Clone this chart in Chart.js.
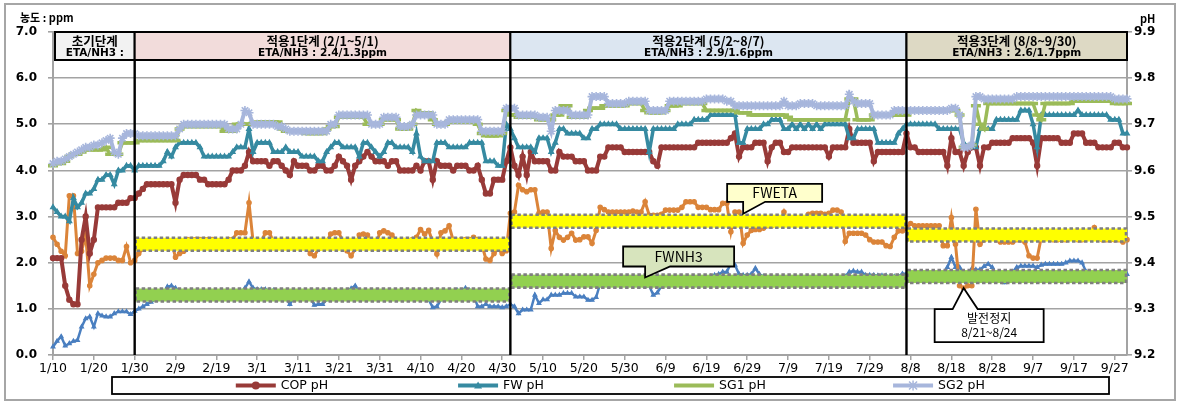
<!DOCTYPE html>
<html><head><meta charset="utf-8">
<script src="https://cdn.jsdelivr.net/npm/chart.js@4.4.1/dist/chart.umd.min.js"></script>
<style>html,body{margin:0;padding:0;background:#fff;overflow:hidden;}canvas{display:block;}</style>
</head><body>
<canvas id="c" width="1178" height="402"></canvas>
<script>
// ---------- categories (daily, 1/10 .. 9/30) ----------
const firstDay = '1/10', lastDay = '9/30';
const monthLengths = [31,28,31,30,31,30,31,31,30,31,30,31];
const categories = [];
(function(){ let m=1,d=10; for(;;){ const s=m+'/'+d; categories.push(s); if(s===lastDay) break; d++; if(d>monthLengths[m-1]){d=1;m++;} } })();

const tickLabels = ['1/10','1/20','1/30','2/9','2/19','3/1','3/11','3/21','3/31','4/10','4/20','4/30',
  '5/10','5/20','5/30','6/9','6/19','6/29','7/9','7/19','7/29','8/8','8/18','8/28','9/7','9/17','9/27'];
const ppmTicks = [0,1,2,3,4,5,6,7];
const pHTicks = [9.2,9.3,9.4,9.5,9.6,9.7,9.8,9.9];

// ---------- series ----------
const COP_pH = [
9.41,9.41,9.41,9.35,9.32,9.31,9.31,9.45,9.50,9.42,
9.45,9.52,9.52,9.52,9.52,9.52,9.53,9.53,9.53,9.54,
9.54,9.55,9.56,9.57,9.57,9.57,9.57,9.57,9.57,9.57,
9.53,9.58,9.59,9.59,9.59,9.59,9.58,9.58,9.57,9.57,
9.57,9.57,9.57,9.58,9.60,9.60,9.60,9.61,9.64,9.62,
9.62,9.62,9.62,9.61,9.62,9.62,9.61,9.60,9.59,9.62,
9.61,9.61,9.61,9.60,9.60,9.61,9.61,9.60,9.60,9.61,
9.63,9.62,9.61,9.58,9.61,9.62,9.63,9.64,9.63,9.62,
9.62,9.62,9.61,9.62,9.62,9.60,9.60,9.60,9.60,9.61,
9.60,9.62,9.62,9.58,9.62,9.61,9.61,9.61,9.60,9.61,
9.61,9.61,9.60,9.60,9.61,9.58,9.55,9.55,9.58,9.58,
9.58,9.62,9.65,9.61,9.59,9.63,9.59,9.64,9.62,9.62,
9.62,9.62,9.60,9.60,9.64,9.63,9.63,9.63,9.62,9.62,
9.62,9.60,9.60,9.60,9.63,9.63,9.65,9.65,9.65,9.65,
9.64,9.64,9.64,9.64,9.64,9.64,9.64,9.62,9.61,9.65,
9.65,9.65,9.65,9.65,9.65,9.65,9.65,9.65,9.66,9.66,
9.66,9.66,9.66,9.66,9.66,9.66,9.67,9.68,9.63,9.65,
9.65,9.65,9.66,9.66,9.66,9.62,9.65,9.66,9.66,9.64,
9.64,9.65,9.65,9.65,9.65,9.65,9.65,9.65,9.65,9.65,
9.63,9.65,9.65,9.65,9.65,9.69,9.66,9.66,9.66,9.66,
9.66,9.62,9.64,9.64,9.64,9.64,9.64,9.64,9.64,9.68,
9.65,9.65,9.64,9.64,9.64,9.64,9.64,9.64,9.64,9.61,
9.67,9.64,9.64,9.61,9.64,9.65,9.65,9.61,9.65,9.65,
9.66,9.66,9.66,9.66,9.66,9.67,9.67,9.67,9.67,9.67,
9.66,9.61,9.67,9.67,9.67,9.67,9.67,9.66,9.66,9.66,
9.68,9.68,9.68,9.66,9.66,9.66,9.65,9.65,9.65,9.65,
9.66,9.66,9.65,9.65];

const FW_pH = [
9.52,9.51,9.50,9.50,9.49,9.54,9.52,9.53,9.55,9.55,
9.56,9.58,9.58,9.59,9.59,9.57,9.60,9.60,9.61,9.61,
9.60,9.61,9.61,9.61,9.61,9.61,9.61,9.62,9.64,9.63,
9.65,9.66,9.66,9.66,9.66,9.66,9.65,9.63,9.63,9.63,
9.63,9.63,9.63,9.63,9.64,9.65,9.65,9.65,9.69,9.64,
9.66,9.66,9.66,9.66,9.64,9.64,9.64,9.65,9.64,9.64,
9.64,9.63,9.63,9.63,9.63,9.62,9.62,9.64,9.65,9.66,
9.66,9.65,9.65,9.65,9.65,9.63,9.66,9.66,9.65,9.64,
9.63,9.64,9.66,9.66,9.65,9.65,9.65,9.65,9.64,9.68,
9.63,9.62,9.62,9.62,9.66,9.66,9.66,9.65,9.65,9.65,
9.65,9.65,9.66,9.66,9.66,9.66,9.62,9.62,9.62,9.61,
9.61,9.70,9.69,9.67,9.65,9.65,9.65,9.65,9.64,9.67,
9.67,9.67,9.64,9.66,9.69,9.69,9.68,9.68,9.68,9.68,
9.67,9.67,9.69,9.69,9.70,9.70,9.70,9.70,9.70,9.69,
9.69,9.69,9.69,9.69,9.69,9.69,9.64,9.69,9.69,9.69,
9.69,9.69,9.69,9.70,9.70,9.70,9.70,9.71,9.71,9.71,
9.71,9.72,9.72,9.72,9.72,9.72,9.72,9.72,9.66,9.66,
9.69,9.69,9.69,9.69,9.70,9.70,9.71,9.71,9.71,9.69,
9.69,9.70,9.69,9.70,9.69,9.70,9.69,9.70,9.69,9.70,
9.70,9.70,9.70,9.70,9.70,9.67,9.67,9.69,9.69,9.69,
9.69,9.69,9.66,9.66,9.66,9.66,9.66,9.68,9.69,9.70,
9.70,9.70,9.70,9.70,9.70,9.70,9.70,9.69,9.69,9.69,
9.69,9.69,9.69,9.66,9.65,9.65,9.65,9.69,9.69,9.69,
9.69,9.71,9.71,9.71,9.71,9.71,9.71,9.73,9.73,9.73,
9.70,9.65,9.72,9.72,9.72,9.72,9.72,9.72,9.72,9.72,
9.72,9.73,9.72,9.72,9.72,9.72,9.72,9.72,9.72,9.71,
9.71,9.71,9.68,9.68];

const SG1_pH = [
9.61,9.615,9.615,9.62,9.63,9.635,9.635,9.64,9.645,9.645,
9.645,9.645,9.645,9.65,9.635,9.635,9.635,9.66,9.66,9.66,
9.66,9.665,9.665,9.665,9.665,9.665,9.665,9.665,9.665,9.665,
9.665,9.69,9.695,9.695,9.695,9.695,9.695,9.695,9.695,9.695,
9.695,9.695,9.685,9.685,9.685,9.70,9.70,9.70,9.70,9.70,
9.705,9.705,9.705,9.705,9.705,9.705,9.69,9.685,9.685,9.685,
9.685,9.685,9.68,9.68,9.68,9.68,9.68,9.69,9.695,9.695,
9.715,9.715,9.715,9.715,9.715,9.715,9.715,9.70,9.70,9.70,
9.70,9.71,9.71,9.71,9.71,9.69,9.69,9.69,9.70,9.73,
9.725,9.725,9.725,9.71,9.70,9.70,9.70,9.705,9.705,9.705,
9.705,9.705,9.705,9.705,9.70,9.68,9.675,9.675,9.675,9.675,
9.68,9.73,9.72,9.72,9.715,9.715,9.715,9.715,9.715,9.71,
9.71,9.71,9.71,9.72,9.72,9.74,9.74,9.715,9.715,9.715,
9.715,9.73,9.735,9.735,9.735,9.74,9.74,9.74,9.74,9.74,
9.74,9.745,9.745,9.745,9.745,9.73,9.725,9.725,9.725,9.725,
9.73,9.74,9.74,9.74,9.745,9.745,9.745,9.745,9.745,9.745,
9.73,9.73,9.73,9.73,9.73,9.73,9.73,9.73,9.725,9.725,
9.725,9.72,9.72,9.72,9.72,9.72,9.72,9.72,9.72,9.72,
9.715,9.71,9.71,9.71,9.71,9.71,9.71,9.71,9.71,9.71,
9.71,9.71,9.71,9.71,9.71,9.755,9.755,9.71,9.71,9.71,
9.71,9.72,9.72,9.72,9.72,9.72,9.72,9.72,9.72,9.72,
9.73,9.73,9.73,9.73,9.73,9.73,9.73,9.73,9.73,9.73,
9.73,9.73,9.72,9.65,9.65,9.655,9.74,9.70,9.69,9.745,
9.745,9.745,9.745,9.745,9.745,9.745,9.745,9.745,9.745,9.745,
9.745,9.72,9.71,9.745,9.745,9.745,9.745,9.745,9.745,9.745,
9.75,9.75,9.75,9.75,9.75,9.75,9.75,9.75,9.75,9.75,
9.745,9.745,9.745,9.745];

const SG2_pH = [
9.615,9.62,9.62,9.625,9.63,9.635,9.64,9.645,9.65,9.65,
9.655,9.655,9.66,9.665,9.67,9.64,9.635,9.67,9.68,9.68,
9.68,9.675,9.675,9.675,9.675,9.675,9.675,9.675,9.675,9.675,
9.675,9.69,9.70,9.70,9.70,9.70,9.70,9.70,9.70,9.70,
9.70,9.70,9.70,9.69,9.69,9.69,9.70,9.73,9.725,9.70,
9.70,9.70,9.70,9.70,9.70,9.695,9.695,9.69,9.685,9.685,
9.685,9.685,9.685,9.685,9.685,9.685,9.685,9.685,9.70,9.70,
9.72,9.72,9.72,9.72,9.72,9.72,9.72,9.72,9.70,9.70,
9.70,9.715,9.715,9.715,9.715,9.695,9.695,9.695,9.70,9.72,
9.72,9.72,9.72,9.72,9.70,9.70,9.70,9.71,9.71,9.71,
9.71,9.71,9.71,9.71,9.71,9.685,9.685,9.685,9.685,9.685,
9.685,9.735,9.735,9.735,9.72,9.72,9.72,9.72,9.72,9.715,
9.715,9.715,9.685,9.73,9.73,9.73,9.73,9.72,9.72,9.72,
9.72,9.72,9.76,9.76,9.76,9.76,9.745,9.745,9.745,9.745,
9.745,9.75,9.75,9.75,9.75,9.75,9.73,9.73,9.73,9.73,
9.73,9.75,9.75,9.75,9.75,9.75,9.75,9.75,9.75,9.75,
9.755,9.755,9.755,9.755,9.755,9.75,9.75,9.74,9.74,9.74,
9.74,9.74,9.74,9.74,9.74,9.74,9.74,9.74,9.74,9.75,
9.74,9.74,9.74,9.745,9.745,9.745,9.745,9.74,9.74,9.74,
9.74,9.74,9.74,9.74,9.74,9.765,9.75,9.745,9.745,9.745,
9.745,9.72,9.72,9.72,9.72,9.72,9.73,9.73,9.73,9.73,
9.73,9.73,9.73,9.73,9.73,9.73,9.73,9.73,9.73,9.73,
9.735,9.735,9.72,9.65,9.65,9.655,9.76,9.76,9.755,9.755,
9.755,9.755,9.755,9.755,9.755,9.755,9.76,9.76,9.76,9.76,
9.76,9.76,9.76,9.76,9.76,9.76,9.76,9.76,9.76,9.76,
9.76,9.76,9.76,9.76,9.76,9.76,9.76,9.76,9.76,9.76,
9.755,9.755,9.755,9.755];

const FW_ETA = [
2.55,2.4,2.25,2.15,3.45,3.45,2.2,2.25,2.6,1.5,
1.75,2.0,2.05,2.1,2.1,2.1,2.05,2.05,2.35,2.0,
2.05,2.2,2.3,2.35,2.45,2.45,2.45,2.45,2.45,2.45,
2.12,2.2,2.25,2.5,2.5,2.5,2.5,2.5,2.5,2.5,
2.45,2.45,2.45,2.5,2.5,2.65,2.65,2.65,3.3,2.45,
2.45,2.45,2.65,2.65,2.45,2.45,2.45,2.45,2.45,2.45,
2.45,2.45,2.45,2.2,2.15,2.3,2.33,2.45,2.62,2.65,
2.65,2.45,2.26,2.15,2.3,2.6,2.62,2.6,2.33,2.33,
2.65,2.69,2.65,2.6,2.48,2.48,2.48,2.48,2.5,2.55,
2.72,2.62,2.7,2.45,2.19,2.65,2.69,2.8,2.48,2.48,
2.5,2.5,2.5,2.55,2.5,2.4,2.08,2.05,2.2,2.3,
2.2,2.26,3.07,3.1,3.68,3.58,3.54,3.58,3.58,3.07,
3.1,3.1,2.31,2.7,2.55,2.49,2.55,2.64,2.49,2.5,
2.56,2.56,2.42,2.7,3.2,3.15,3.1,3.1,3.1,3.1,
3.1,3.1,3.12,3.1,3.1,3.32,3.03,3.03,3.03,3.05,
3.14,3.14,3.14,3.14,3.2,3.32,3.32,3.32,3.2,3.2,
3.2,3.15,3.15,3.15,3.29,3.29,2.67,3.1,3.1,2.42,
2.6,2.7,2.72,2.72,2.75,2.8,2.8,2.85,2.85,3.1,
2.85,2.85,2.85,2.85,2.85,3.05,3.07,3.07,3.07,3.05,
3.07,3.14,3.14,3.1,2.46,2.64,2.64,2.64,2.64,2.6,
2.5,2.45,2.45,2.45,2.37,2.35,2.55,2.69,2.69,2.75,
2.85,2.8,2.8,2.8,2.8,2.8,2.8,2.8,2.37,2.37,
2.98,2.4,1.5,1.45,1.5,1.5,3.16,2.4,2.5,2.55,
2.55,2.5,2.45,2.45,2.45,2.45,2.5,2.5,2.45,2.15,
2.1,2.1,2.55,2.55,2.55,2.5,2.5,2.5,2.5,2.55,
2.55,2.5,2.5,2.6,2.6,2.76,2.55,2.5,2.5,2.5,
2.5,2.5,2.45,2.5];

const FW_NH3 = [
0.18,0.3,0.4,0.2,0.25,0.3,0.32,0.61,0.79,0.83,
0.61,0.9,0.85,0.83,0.83,0.9,0.94,0.94,0.94,0.88,
0.95,1.0,1.05,1.1,1.15,1.2,1.25,1.3,1.48,1.5,
1.45,1.35,1.3,1.25,1.25,1.25,1.25,1.25,1.25,1.25,
1.25,1.25,1.25,1.25,1.25,1.3,1.35,1.45,1.59,1.45,
1.42,1.42,1.42,1.4,1.4,1.3,1.3,1.25,1.1,1.25,
1.3,1.3,1.3,1.25,1.08,1.1,1.1,1.2,1.25,1.3,
1.3,1.3,1.35,1.44,1.5,1.35,1.3,1.3,1.3,1.3,
1.3,1.3,1.3,1.35,1.3,1.3,1.3,1.3,1.3,1.3,
1.3,1.3,1.2,1.03,1.05,1.2,1.3,1.3,1.35,1.4,
1.38,1.45,1.4,1.3,1.05,1.05,1.1,1.05,1.05,1.05,
1.03,1.05,1.1,1.05,0.9,0.98,0.98,0.98,1.3,1.12,
1.2,1.2,1.3,1.3,1.3,1.34,1.34,1.34,1.26,1.26,
1.26,1.19,1.19,1.25,1.55,1.57,1.57,1.57,1.57,1.57,
1.58,1.58,1.55,1.55,1.55,1.5,1.5,1.3,1.35,1.5,
1.55,1.55,1.55,1.58,1.58,1.58,1.6,1.6,1.6,1.65,
1.65,1.7,1.73,1.75,1.8,1.8,1.99,1.95,1.75,1.73,
1.73,1.75,1.88,1.75,1.7,1.65,1.6,1.6,1.6,1.6,
1.6,1.6,1.6,1.6,1.6,1.6,1.6,1.6,1.6,1.6,
1.6,1.6,1.62,1.65,1.7,1.8,1.82,1.8,1.8,1.73,
1.73,1.73,1.72,1.72,1.72,1.7,1.7,1.7,1.76,1.76,
1.65,1.6,1.6,1.6,1.6,1.6,1.62,1.65,1.75,1.9,
2.12,1.9,1.9,1.75,1.75,1.87,1.85,1.85,1.92,1.97,
1.9,1.75,1.65,1.57,1.7,1.8,1.9,1.93,1.93,1.93,
1.93,1.9,1.95,1.97,1.97,1.97,1.97,1.97,2.0,2.04,
2.04,2.04,2.0,1.8,1.75,1.75,1.75,1.75,1.75,1.75,
1.75,1.75,1.75,1.75];

// ---------- phases & targets ----------
const phaseBounds = ['1/10','1/30','5/2','8/7','9/30'];
const phaseTitles = ['초기단계','적용1단계 (2/1~5/1)','적용2단계 (5/2~8/7)','적용3단계 (8/8~9/30)'];
const phaseTargetText = ['ETA/NH3 :','ETA/NH3 : 2.4/1.3ppm','ETA/NH3 : 2.9/1.6ppm','ETA/NH3 : 2.6/1.7ppm'];
const etaTarget = [null, 2.4, 2.9, 2.6];
const nh3Target = [null, 1.3, 1.6, 1.7];
const phaseFill = ['#f2f2f2','#f2dcdb','#dce6f1','#ddd9c4'];

const callouts = [
  {lines:['FWETA'], cat:'6/28', val:3.06, fill:'#ffffcc', box:[-16,-30,95,18], notch:'bottom', nA:0, nB:22},
  {lines:['FWNH3'], cat:'6/4', val:1.68, fill:'#d7e4bd', box:[-22,-31,111,20], notch:'bottom', nA:0, nB:25},
  {lines:['발전정지','8/21~8/24'], cat:'8/21', val:1.45, fill:'#ffffff', box:[-29,21,109,33], notch:'top', nA:-11, nB:14}
];

const C = {cop:'#983a38', fw:'#368aa1', sg1:'#9bbb59', sg2:'#a7b6dc', eta:'#db8439', nh3:'#4a7fc0', grid:'#a3a3a3'};
const FONT = '"DejaVu Sans", "Noto Sans CJK KR", sans-serif';
const KFONT = '"Noto Sans CJK KR", "DejaVu Sans", sans-serif';

function mk(label, data, color, axis, width, pstyle, prad, pbw, order){
  return {label, data, borderColor:color, backgroundColor:color, yAxisID:axis, borderWidth:width,
    pointStyle:pstyle, pointRadius:prad, pointBorderWidth:pbw, pointHoverRadius:0, tension:0, fill:false, order};
}

const overlay = {
  id:'overlay',
  beforeDraw(chart){
    const ctx = chart.ctx;
    ctx.save();
    ctx.fillStyle = '#fff'; ctx.fillRect(0,0,chart.width,chart.height);
    ctx.strokeStyle = '#a6a6a6'; ctx.lineWidth = 2;
    ctx.strokeRect(5,4,chart.width-8,chart.height-6);
    ctx.restore();
  },
  afterDatasetsDraw(chart){
    const {ctx, chartArea:a, scales} = chart;
    const x = scales.x, y = scales.y;
    const px = l => x.getPixelForValue(categories.indexOf(l));
    ctx.save();
    // target bands
    const band = (x0,x1,v,fill) => {
      const yc = y.getPixelForValue(v), h = 13;
      ctx.fillStyle = fill; ctx.fillRect(x0, yc-h/2, x1-x0, h);
      ctx.setLineDash([3.5,2.5]); ctx.strokeStyle = '#7f7f7f'; ctx.lineWidth = 2.6;
      ctx.strokeRect(x0+1, yc-h/2, x1-x0-2, h);
      ctx.setLineDash([]);
    };
    for (let p=1;p<4;p++){
      const x0 = px(phaseBounds[p]), x1 = px(phaseBounds[p+1]);
      band(x0,x1,etaTarget[p],'#ffff00');
      band(x0,x1,nh3Target[p],'#92d050');
    }
    // phase separators
    ctx.strokeStyle = '#000'; ctx.lineWidth = 2.4;
    for (let p=1;p<4;p++){
      const xx = px(phaseBounds[p]);
      ctx.beginPath(); ctx.moveTo(xx,a.top); ctx.lineTo(xx,a.bottom); ctx.stroke();
    }
    // phase header boxes
    for (let p=0;p<4;p++){
      const x0 = p===0 ? px(phaseBounds[0])+2 : px(phaseBounds[p]);
      const x1 = px(phaseBounds[p+1]);
      const y0 = a.top, h = 28;
      ctx.fillStyle = phaseFill[p]; ctx.fillRect(x0,y0,x1-x0,h);
      ctx.strokeStyle = '#000'; ctx.lineWidth = 2; ctx.strokeRect(x0,y0,x1-x0,h);
      ctx.save();
      ctx.beginPath(); ctx.rect(x0+1,y0+1,x1-x0-2,h-2); ctx.clip();
      ctx.fillStyle = '#000'; ctx.textAlign = 'center'; ctx.textBaseline = 'middle';
      const cx = (x0+x1)/2;
      ctx.font = 'bold 12.5px ' + KFONT; ctx.fillText(phaseTitles[p], cx, y0+9.5);
      ctx.font = 'bold 10.5px ' + FONT; ctx.fillText(phaseTargetText[p], cx, y0+21);
      ctx.restore();
    }
    // callouts
    callouts.forEach(c => {
      const tx = px(c.cat), ty = y.getPixelForValue(c.val);
      const bx0 = tx + c.box[0], by0 = ty + c.box[1], bx1 = bx0 + c.box[2], by1 = by0 + c.box[3];
      ctx.beginPath();
      if (c.notch === 'bottom'){
        ctx.moveTo(bx0,by0); ctx.lineTo(bx1,by0); ctx.lineTo(bx1,by1);
        ctx.lineTo(tx+c.nB,by1); ctx.lineTo(tx,ty); ctx.lineTo(tx+c.nA,by1); ctx.lineTo(bx0,by1);
      } else {
        ctx.moveTo(bx0,by0); ctx.lineTo(tx+c.nA,by0); ctx.lineTo(tx,ty); ctx.lineTo(tx+c.nB,by0);
        ctx.lineTo(bx1,by0); ctx.lineTo(bx1,by1); ctx.lineTo(bx0,by1);
      }
      ctx.closePath();
      ctx.fillStyle = c.fill; ctx.fill();
      ctx.strokeStyle = '#000'; ctx.lineWidth = 1.8; ctx.lineJoin = 'miter'; ctx.stroke();
      ctx.fillStyle = '#000'; ctx.textAlign = 'center'; ctx.textBaseline = 'middle';
      const n = c.lines.length, lh = 14, cx = (bx0+bx1)/2, cy = (by0+by1)/2;
      c.lines.forEach((t,i) => {
        ctx.font = (n===1 ? '14px ' : '12px ') + KFONT;
        ctx.fillText(t, cx, cy + (i-(n-1)/2)*lh);
      });
    });
    ctx.restore();
  },
  afterDraw(chart){
    const ctx = chart.ctx;
    ctx.save();
    ctx.fillStyle = '#000'; ctx.textBaseline = 'middle'; ctx.textAlign = 'left';
    ctx.font = 'bold 11px ' + KFONT;
    ctx.fillText('농도 : ppm', 20, 18);
    ctx.fillText('pH', 1140, 19);
    // legend
    const lx0 = 112, lx1 = 1109, ly0 = 377, ly1 = 394, ly = (ly0+ly1)/2;
    ctx.fillStyle = '#fff'; ctx.fillRect(lx0,ly0,lx1-lx0,ly1-ly0);
    ctx.strokeStyle = '#000'; ctx.lineWidth = 1.8; ctx.strokeRect(lx0,ly0,lx1-lx0,ly1-ly0);
    const items = chart.data.datasets.slice(0,4);
    const cell = 219, mid = (lx0+lx1)/2;
    ctx.font = '12.5px ' + FONT;
    items.forEach((d,i) => {
      const tw = ctx.measureText(d.label).width, lw = 40, total = lw + 5 + tw;
      const cx = mid + (i-1.5)*cell, sx = cx - total/2;
      ctx.strokeStyle = d.borderColor; ctx.lineWidth = 4;
      ctx.beginPath(); ctx.moveTo(sx,ly); ctx.lineTo(sx+lw,ly); ctx.stroke();
      const mx = sx + lw/2;
      ctx.fillStyle = d.borderColor;
      if (d.pointStyle === 'circle'){ ctx.beginPath(); ctx.arc(mx,ly,4,0,Math.PI*2); ctx.fill(); }
      else if (d.pointStyle === 'triangle'){ ctx.beginPath(); ctx.moveTo(mx,ly-4); ctx.lineTo(mx+4,ly+3); ctx.lineTo(mx-4,ly+3); ctx.closePath(); ctx.fill(); }
      else if (d.pointStyle === 'star'){ ctx.lineWidth = 1.5; ctx.beginPath();
        ctx.moveTo(mx-4,ly-4); ctx.lineTo(mx+4,ly+4); ctx.moveTo(mx+4,ly-4); ctx.lineTo(mx-4,ly+4);
        ctx.moveTo(mx,ly-5); ctx.lineTo(mx,ly+5); ctx.stroke(); }
      ctx.fillStyle = '#000'; ctx.fillText(d.label, sx+lw+5, ly+0.5);
    });
    ctx.restore();
  }
};

new Chart(document.getElementById('c'), {
  type:'line',
  data:{
    labels: categories,
    datasets:[
      mk('COP pH', COP_pH, C.cop, 'y2', 4, 'circle', 2.6, 1.2, 4),
      mk('FW pH', FW_pH, C.fw, 'y2', 3.5, 'triangle', 2.8, 1.2, 3),
      mk('SG1 pH', SG1_pH, C.sg1, 'y2', 3.5, 'line', 5, 3.5, 2),
      mk('SG2 pH', SG2_pH, C.sg2, 'y2', 4, 'star', 4.5, 1.6, 1),
      mk('FWETA', FW_ETA, C.eta, 'y', 3, 'circle', 2.2, 1.2, 5),
      mk('FWNH3', FW_NH3, C.nh3, 'y', 2.5, 'triangle', 2.2, 1.2, 6)
    ]
  },
  options:{
    responsive:false, animation:false, events:[],
    layout:{padding:{top:32, left:0, right:0, bottom:0}},
    plugins:{legend:{display:false}, tooltip:{enabled:false}, title:{display:false}},
    scales:{
      x:{
        type:'category', offset:false,
        grid:{drawOnChartArea:false, tickLength:5, lineWidth:1.5,
          color: c => (c.tick && tickLabels.includes(categories[c.tick.value])) ? C.grid : 'rgba(0,0,0,0)'},
        border:{color:C.grid, width:2},
        ticks:{autoSkip:false, maxRotation:0, minRotation:0, padding:1, color:'#000',
          font:{family:FONT, size:12.5},
          callback:function(v,i){ const l = categories[i]; return tickLabels.includes(l) ? l : ''; }},
        afterFit: s => { s.height = 47; }
      },
      y:{
        position:'left', min:ppmTicks[0], max:ppmTicks[ppmTicks.length-1],
        afterBuildTicks: s => { s.ticks = ppmTicks.map(v => ({value:v})); },
        grid:{color:C.grid, lineWidth:1.6, tickLength:5},
        border:{color:C.grid, width:2},
        ticks:{color:'#000', padding:11, font:{family:FONT, size:12, weight:'bold'}, callback: v => v.toFixed(1)},
        afterFit: s => { s.width = 53; }
      },
      y2:{
        position:'right', min:pHTicks[0], max:pHTicks[pHTicks.length-1],
        afterBuildTicks: s => { s.ticks = pHTicks.map(v => ({value:v})); },
        grid:{drawOnChartArea:false, color:C.grid, lineWidth:1.6, tickLength:5},
        border:{color:C.grid, width:2},
        ticks:{color:'#000', padding:2, font:{family:FONT, size:12, weight:'bold'}, callback: v => (+v).toFixed(1)},
        afterFit: s => { s.width = 51; }
      }
    }
  },
  plugins:[overlay]
});
</script>
</body></html>
